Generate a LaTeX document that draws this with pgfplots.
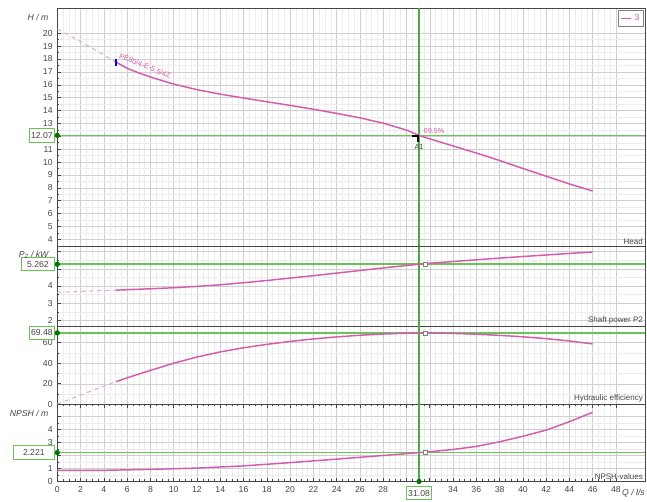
\documentclass[border=0pt]{standalone}
\usepackage{fontspec}
\setmainfont{Liberation Sans}
\usepackage{pgfplots}
\pgfplotsset{compat=1.18}

\definecolor{curve}{RGB}{212,92,172}
\definecolor{curvedash}{RGB}{232,165,210}
\definecolor{gline}{RGB}{105,195,85}
\definecolor{gvert}{RGB}{70,175,60}
\definecolor{gdot}{RGB}{0,115,0}
\definecolor{txt}{RGB}{70,70,70}

\newcommand{\tk}{\fontsize{6.5}{7}\selectfont}
\newcommand{\sm}{\fontsize{6}{7}\selectfont}

\tikzset{valbox/.style={draw=gline, fill=white, line width=0.8pt, font=\tk, text=txt, minimum height=10pt, inner sep=1pt}}

\pgfplotsset{
  panel/.style={
    scale only axis, width=440.8pt,
    xmin=0, xmax=50.5,
    xtick={0,2,...,48}, minor x tick num=3,
    xticklabels={0,2,4,6,8,10,12,14,16,18,20,22,24,26,28,,,34,36,38,40,42,44,46,48},
    grid=both,
    major grid style={gray!38, line width=0.35pt},
    minor grid style={gray!14, line width=0.3pt},
    axis line style={gray!55!black, line width=0.7pt},
    tick style={gray!55!black, line width=0.4pt},
    major tick length=2.5pt, minor tick length=1.5pt,
    ytick pos=left,
    ticklabel style={font=\tk, text=txt},
    /pgf/number format/assume math mode=true,
    clip=false,
  },
  upper/.style={xticklabel=\empty, xtick style={draw=none}},
  hline/.style={gline, line width=1.2pt, forget plot},
  vline/.style={gvert, line width=0.9pt, forget plot},
}

\begin{document}
\begin{tikzpicture}
\useasboundingbox (0pt,0pt) rectangle (485.25pt,-375.75pt);

% ---------- Head ----------
\begin{axis}[panel, upper, at={(43pt,-6pt)}, anchor=north west, height=178.9pt,
  ymin=3.44, ymax=21.96, ytick={4,...,20}, yticklabels={4,5,6,7,8,9,10,11,,13,14,15,16,17,18,19,20},
  minor y tick num=1,
  legend style={at={(1,1)}, anchor=north east, xshift=-1pt, yshift=-1.5pt, draw=gray,
    font=\tk, text=curve, inner sep=1pt},
  legend image code/.code={\draw[#1] (0pt,0pt) -- (8pt,0pt);}]
\addplot[hline] coordinates {(0,12.07)(50.5,12.07)};
\addplot[vline] coordinates {(31.08,3.44)(31.08,21.96)};
\addplot[curvedash, dashed, line width=0.8pt, forget plot] coordinates {
  (0,20.33)(1,19.85)(2,19.35)(3,18.84)(4,18.32)(5.05,17.75)};
\addplot[curve, line width=1.1pt] coordinates {
  (5.05,17.75)(6,17.28)(7,16.92)(8,16.6)(10,16.05)(12,15.62)(14,15.27)(16,14.97)
  (18,14.68)(20,14.4)(22,14.1)(24,13.78)(26,13.43)(28,13.02)(30,12.48)(31.08,12.07)
  (32,11.8)(34,11.25)(36,10.7)(38,10.12)(40,9.5)(42,8.9)(44,8.3)(46,7.75)};
\addlegendentry{3}
\addplot[blue, only marks, mark=|, mark size=2.5pt, line width=1pt, forget plot] coordinates {(5.05,17.75)};
\addplot[black, line width=1.2pt, forget plot] coordinates {(30.5,12.0)(31.0,12.0)(31.0,11.55)};
\fill[gdot] (axis cs:0,12.07) circle (2pt);
\node[valbox, anchor=east, minimum width=19pt] at ([xshift=-1.7pt]axis cs:0,12.07) {12.07};
\node[anchor=east, font=\tk\itshape, text=txt, inner sep=0pt] at ([xshift=-6.5pt,yshift=-6.8pt]rel axis cs:0,1) {H / m};
\node[anchor=south east, font=\sm, text=txt, inner sep=1.5pt] at (rel axis cs:1,0) {Head};
\node[anchor=base west, font=\fontsize{5.5}{6}\selectfont, text=curve, rotate=-22, inner sep=0.5pt] at (axis cs:5.2,18.1) {PE80/4-E-5.5/4Z};
\node[anchor=south west, font=\fontsize{5.5}{6}\selectfont, text=curve, inner sep=0.5pt] at (axis cs:31.4,12.15) {69.5\%};
\node[anchor=north, font=\fontsize{5.5}{6}\selectfont, text=txt, inner sep=0.5pt] at (axis cs:31.08,11.4) {A1};
\end{axis}

% ---------- Shaft power ----------
\begin{axis}[panel, upper, at={(43pt,-184.9pt)}, anchor=north west, height=59.6pt,
  ymin=1.68, ymax=6.29, ytick={2,3,4,5,6}, yticklabels={2,3,4,,}, minor y tick num=1]
\addplot[hline] coordinates {(0,5.262)(50.5,5.262)};
\addplot[vline] coordinates {(31.08,1.68)(31.08,6.29)};
\addplot[curvedash, dashed, line width=0.8pt] coordinates {(0,3.64)(2.5,3.7)(5.05,3.76)};
\addplot[curve, line width=1.1pt] coordinates {
  (5.05,3.76)(8,3.84)(10,3.9)(12,3.98)(14,4.07)(16,4.19)(18,4.32)(20,4.46)(22,4.6)
  (24,4.75)(26,4.9)(28,5.05)(30,5.19)(31.08,5.262)(32,5.32)(34,5.42)(36,5.52)(38,5.62)
  (40,5.71)(42,5.8)(44,5.89)(46,5.97)};
\addplot[only marks, mark=square*, mark size=1.5pt, mark options={fill=white, draw=gray}] coordinates {(31.6,5.262)};
\fill[gdot] (axis cs:0,5.262) circle (2pt);
\node[valbox, anchor=east, minimum width=25pt] at ([xshift=-1.7pt]axis cs:0,5.262) {5.262};
\node[anchor=east, font=\tk\itshape, text=txt, inner sep=0pt] at ([xshift=-6.5pt,yshift=-6.4pt]rel axis cs:0,1) {P\textsubscript{2} / kW};
\node[anchor=south east, font=\sm, text=txt, inner sep=1.5pt] at (rel axis cs:1,0) {Shaft power P2};
\end{axis}

% ---------- Hydraulic efficiency ----------
\begin{axis}[panel, upper, at={(43pt,-244.5pt)}, anchor=north west, height=58.7pt,
  ymin=0, ymax=76.2, ytick={0,20,40,60}, minor y tick num=1]
\addplot[hline] coordinates {(0,69.48)(50.5,69.48)};
\addplot[vline] coordinates {(31.08,0)(31.08,76.2)};
\addplot[curvedash, dashed, line width=0.8pt] coordinates {(0,0)(1,4.6)(2,9.0)(3,13.3)(4,17.7)(5.05,22)};
\addplot[curve, line width=1.1pt] coordinates {
  (5.05,22)(6,25.8)(8,33)(10,40)(12,46)(14,51)(16,55)(18,58.3)(20,61.2)(22,63.6)
  (24,65.6)(26,67.2)(28,68.4)(30,69.2)(31.08,69.48)(32,69.45)(34,69.0)(36,68.2)
  (38,67.1)(40,65.7)(42,63.9)(44,61.6)(46,58.8)};
\addplot[only marks, mark=square*, mark size=1.5pt, mark options={fill=white, draw=gray}] coordinates {(31.6,69.48)};
\fill[gdot] (axis cs:0,69.48) circle (2pt);
\node[valbox, anchor=east, minimum width=19pt] at ([xshift=-1.7pt]axis cs:0,69.48) {69.48};
\node[anchor=south east, font=\sm, text=txt, inner sep=1.5pt] at (rel axis cs:1,0) {Hydraulic efficiency};
\end{axis}

% ---------- NPSH ----------
\begin{axis}[panel, at={(43pt,-303.2pt)}, anchor=north west, height=57.9pt,
  ymin=0, ymax=5.94, ytick={0,1,2,3,4,5}, yticklabels={0,1,,3,4,}, minor y tick num=1]
\addplot[hline] coordinates {(0,2.221)(50.5,2.221)};
\addplot[vline] coordinates {(31.08,0)(31.08,5.94)};
\addplot[curve, line width=1.1pt] coordinates {
  (0,0.85)(4,0.86)(8,0.93)(12,1.03)(16,1.2)(20,1.45)(24,1.72)(28,2.0)(31.08,2.221)
  (32,2.29)(34,2.46)(36,2.7)(38,3.05)(40,3.48)(42,3.95)(44,4.6)(46,5.32)};
\addplot[only marks, mark=square*, mark size=1.5pt, mark options={fill=white, draw=gray}] coordinates {(31.6,2.221)};
\fill[gdot] (axis cs:0,2.221) circle (2pt);
\fill[gdot] (axis cs:31.08,0) circle (2pt);
\node[valbox, anchor=east, minimum width=31pt] at ([xshift=-1.7pt]axis cs:0,2.221) {2.221};
\node[valbox, anchor=north, minimum width=19pt] at ([yshift=-3.4pt]axis cs:31.08,0) {31.08};
\node[anchor=east, font=\tk\itshape, text=txt, inner sep=0pt] at ([xshift=-6.5pt,yshift=-6.8pt]rel axis cs:0,1) {NPSH / m};
\node[anchor=south east, font=\sm, text=txt, inner sep=1.5pt] at (rel axis cs:1,0) {NPSH-values};
\node[anchor=east, font=\tk\itshape, text=txt, inner sep=0pt] at ([yshift=-9pt]rel axis cs:1,0) {Q / l/s};
\end{axis}
\end{tikzpicture}
\end{document}
